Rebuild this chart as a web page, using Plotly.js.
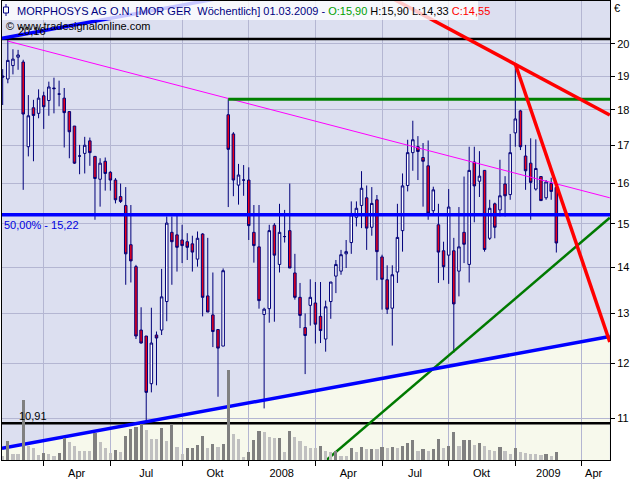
<!DOCTYPE html>
<html><head><meta charset="utf-8">
<script src="https://cdn.plot.ly/plotly-3.0.1.min.js"></script>
<style>html,body{margin:0;padding:0;background:#fff}#chart{width:640px;height:480px}</style>
</head><body><div id="chart"></div>
<script>
// ---- weekly candles (first week Monday 2007-01-29) ----
const firstWeek = '2007-01-29';
const openP = [
19.00,18.91,19.32,19.58,19.43,16.97,18.06,17.90,18.41,18.27,
18.64,18.46,18.34,17.95,17.54,16.72,16.79,17.13,16.71,16.11,
16.58,16.29,16.09,15.67,15.45,14.51,14.01,12.66,12.54,11.62,
12.56,12.66,13.25,14.80,14.74,14.62,14.58,14.53,14.18,14.76,
13.37,12.97,12.67,12.34,17.86,17.32,15.96,16.09,16.09,14.80,
14.46,12.98,13.10,14.97,14.06,14.70,14.84,13.87,13.34,12.71,
13.17,13.22,12.94,12.48,13.25,13.80,13.91,14.30,14.56,15.16,
15.45,15.64,14.92,15.59,14.23,13.72,13.11,13.89,14.84,15.95,
16.81,16.97,16.68,16.46,15.32,14.98,14.37,14.27,14.37,13.91,
14.80,14.06,16.56,16.06,16.34,14.66,15.49,15.34,15.99,15.72,
17.35,17.97,16.72,16.53,15.86,16.18,15.64,16.00,15.90];
const highP = [
19.21,20.16,19.83,19.81,19.50,18.43,18.29,18.60,18.53,18.83,
18.95,18.86,18.64,17.95,17.54,17.02,17.24,17.22,16.72,16.66,
16.68,16.32,16.14,16.00,15.91,15.46,14.05,13.13,12.54,13.12,
12.63,13.96,15.18,15.18,15.22,14.98,14.78,14.72,14.82,14.78,
14.67,13.88,12.68,13.97,18.31,17.37,16.51,16.48,16.42,15.46,
15.46,13.12,14.98,15.02,15.49,15.34,16.00,14.30,13.65,13.00,
13.73,13.67,13.67,13.27,13.67,14.16,14.39,14.62,15.55,15.55,
16.32,15.95,15.91,15.71,14.28,14.04,14.04,15.49,16.26,17.16,
17.69,17.26,17.07,17.14,15.92,15.49,14.58,15.86,14.67,15.41,
16.18,16.97,16.97,16.85,16.35,15.59,15.52,16.62,16.19,17.32,
19.37,18.00,17.02,17.20,17.17,16.19,16.09,16.15,15.90];
const lowP = [
18.14,18.78,19.05,19.19,15.84,16.71,16.58,17.76,17.46,17.83,
17.90,18.10,16.95,16.66,16.51,16.24,16.26,16.46,15.10,15.42,
15.82,15.82,15.50,15.51,13.61,13.66,12.48,12.39,10.91,11.46,
11.59,12.56,12.84,13.61,13.90,14.09,14.16,13.90,14.01,12.94,
13.03,12.32,11.38,12.34,15.41,15.68,15.47,15.69,14.62,14.10,
13.10,11.17,12.81,12.83,13.88,14.56,13.98,13.29,12.70,11.80,
12.75,12.39,12.40,12.23,12.89,13.43,13.83,13.98,14.30,14.94,
14.90,14.39,14.72,13.71,13.08,12.99,12.35,13.65,14.35,15.80,
16.33,16.09,15.42,15.10,15.22,13.65,13.71,13.63,12.21,13.36,
14.09,13.66,15.04,15.66,14.35,14.62,14.66,15.18,15.18,15.59,
16.97,16.88,15.84,15.10,15.82,15.57,15.59,15.59,14.33];
const closeP = [
18.97,19.48,19.52,19.65,17.88,17.83,17.84,18.34,18.09,18.67,
18.62,18.46,17.92,17.38,16.53,16.72,17.01,16.81,16.13,16.53,
16.26,16.09,15.59,15.55,14.30,14.14,12.54,12.40,11.46,12.40,
12.50,13.35,15.02,14.58,14.45,14.49,14.45,14.34,14.66,13.34,
13.03,12.63,12.30,13.92,16.90,16.09,16.22,16.09,14.96,14.49,
13.27,13.09,14.84,14.27,14.80,14.70,13.98,13.34,12.96,12.55,
13.34,12.78,12.65,13.14,13.67,14.06,14.28,14.35,15.22,15.38,
15.88,14.90,15.50,14.35,13.73,13.09,13.83,14.68,15.94,16.81,
17.16,16.84,16.58,15.26,15.84,14.34,14.01,15.41,13.20,14.46,
14.52,16.34,15.94,16.19,14.40,15.38,14.92,15.69,15.69,16.81,
17.74,16.97,16.33,16.03,16.39,15.57,16.04,15.80,14.55];
const volume = [
4,19.3,6,6,60,14,11.7,5,6.7,5.7,
4.3,6.7,21.7,18.3,14.3,9,9,9,26.7,18.3,
11.7,6.7,10,8.3,24.3,31,33.3,35.7,29.7,21,
21,32.3,19,35.7,13.3,5.7,11.7,12,15,23.7,
11.7,15.7,12.7,16,90,26,21,3.3,7.7,20,
29,27.7,22.7,21.7,22,8.3,29,22.7,19.3,14,
11.7,11.7,14,9,7.7,9,4,4,12.3,8.3,
13,10.7,11,10.7,13,11.7,13,11.7,14,16.7,
19.7,9,10.7,9.3,10.7,21,12.3,14.3,28.3,14.3,
20,20.3,15,16.7,14.3,10,9,13,9,6,
11.7,7.7,6.7,6,6,4.7,6,4,8];

// ---- axis ticks ----
const gridDates = ['2007-03-26','2007-06-25','2007-10-01','2007-12-31','2008-03-31','2008-06-30','2008-09-29','2008-12-29','2009-03-30'];
const gridLabels = ['Apr','Jul','Okt','2008','Apr','Jul','Okt','2009','Apr'];
const priceTicks = [11,12,13,14,15,16,17,18,19,20];
const xRange = ['2007-01-28 01:00','2009-05-07 07:00'];
const yRange = [10.286, 21.42];

// ---- levels and trendlines ----
const highLevel = 20.16, lowLevel = 10.91, fibLevel = 15.22;
const resistStart = '2007-12-03', resistLevel = 18.31;
const magentaX = ['2007-02-05','2009-05-07'], magentaY = [20.09, 15.64];
const redUpperX = ['2008-06-27','2009-05-07'], redUpperY = [21.74, 17.85];
const redSteepX = ['2008-12-29','2009-05-07'], redSteepY = [19.37, 12.42];
const greenDiagX = ['2008-03-10','2009-05-07'], greenDiagY = [9.92, 15.15];
const blueLowX = ['2007-01-28','2009-05-07'], blueLowY = [10.48, 12.53];
const blueHighX = ['2007-01-28','2007-12-05'], blueHighY = [20.18, 21.58];

function addDays(s, n){ const d = new Date(s+'T00:00:00Z'); d.setUTCDate(d.getUTCDate()+n); return d.toISOString().slice(0,10); }
const dates = openP.map((_, i) => addDays(firstWeek, 7*i));
const volColors = volume.map((v, i) => (i > 0 && v > volume[i-1]) ? '#808080' : '#C0C0C0');
const labelDates = gridDates.map((d, i) => {
  if (i < gridDates.length - 1) {
    const a = Date.parse(d), b = Date.parse(gridDates[i+1]);
    return new Date((a+b)/2).toISOString().slice(0,10);
  }
  return addDays(d, 16);
});

const hline = (y, color, w, x0) => ({type:'scatter', mode:'lines', x:[x0 || xRange[0], xRange[1]], y:[y, y], line:{color:color, width:w}, hoverinfo:'skip', showlegend:false});
const seg = (xs, ys, color, w) => ({type:'scatter', mode:'lines', x:xs, y:ys, line:{color:color, width:w}, hoverinfo:'skip', showlegend:false});

const traces = [
  {type:'bar', x:dates, y:volume, yaxis:'y2', marker:{color:volColors, line:{width:0}}, width:7*0.62*86400000, hoverinfo:'skip', showlegend:false},
  {type:'candlestick', x:dates, open:openP, high:highP, low:lowP, close:closeP,
   increasing:{line:{color:'#00007A', width:1}, fillcolor:'#FFFFFF'},
   decreasing:{line:{color:'#00007A', width:1}, fillcolor:'#E8001A'},
   whiskerwidth:0, hoverinfo:'skip', showlegend:false},
  seg(magentaX, magentaY, '#FF00FF', 1),
  hline(highLevel, '#000000', 2.5),
  hline(lowLevel, '#000000', 2.5),
  hline(fibLevel, '#0000FF', 3.5),
  hline(resistLevel, '#008000', 3, resistStart),
  seg(greenDiagX, greenDiagY, '#007A00', 2.5),
  seg(blueLowX, blueLowY, '#0000FF', 3.5),
  seg(blueHighX, blueHighY, '#0000FF', 3.5),
  seg(redUpperX, redUpperY, '#FF0000', 3.5),
  seg(redSteepX, redSteepY, '#FF0000', 3.5),
  {type:'scatter', mode:'markers', x:labelDates, y:labelDates.map(()=>15), xaxis:'x2', marker:{opacity:0}, hoverinfo:'skip', showlegend:false}
];

const fillPath = 'M' + blueLowX[0] + ',' + blueLowY[0] + ' L' + blueLowX[1] + ',' + blueLowY[1] + ' L' + blueLowX[1] + ',9 L' + blueLowX[0] + ',9 Z';
const px = v => (v - 2) / 608, py = v => (460 - v) / 459;

const font = 'Liberation Sans, Arial, sans-serif';
const layout = {
  width:640, height:480,
  margin:{l:2, r:30, t:1, b:20, pad:0},
  paper_bgcolor:'#FFFFFF', plot_bgcolor:'#DCDFF0',
  font:{family:font, size:11, color:'#000000'},
  showlegend:false,
  xaxis:{type:'date', range:xRange, tickmode:'array', tickvals:gridDates, showticklabels:false,
         ticks:'outside', ticklen:5, tickcolor:'#000000', showgrid:true, gridcolor:'#B4B6D2', gridwidth:1,
         showline:true, mirror:true, linecolor:'#000000', linewidth:1, zeroline:false,
         rangeslider:{visible:false}, fixedrange:true},
  xaxis2:{type:'date', overlaying:'x', side:'bottom', range:xRange, tickmode:'array', tickvals:labelDates, ticktext:gridLabels,
          ticks:'outside', ticklen:3, tickcolor:'rgba(0,0,0,0)', showgrid:false, showline:false, zeroline:false,
          tickfont:{family:font, size:11, color:'#000000'}},
  yaxis:{type:'log', range:[Math.log10(yRange[0]), Math.log10(yRange[1])], side:'right', tickmode:'array', tickvals:priceTicks,
         ticktext:priceTicks.map(String), ticks:'outside', ticklen:4, tickcolor:'#000000',
         showgrid:true, gridcolor:'#B4B6D2', gridwidth:1, showline:true, mirror:true, linecolor:'#000000', linewidth:1,
         zeroline:false, tickfont:{family:font, size:11, color:'#000000'}, fixedrange:true},
  yaxis2:{overlaying:'y', range:[0, 459], visible:false, fixedrange:true},
  bargap:0,
  shapes:[
    {type:'path', xref:'x', yref:'y', path:fillPath, fillcolor:'#F7F9EC', line:{width:0}, layer:'below'},
    {type:'rect', xref:'paper', yref:'paper', x0:0, x1:px(478), y0:py(20), y1:1, fillcolor:'rgba(255,255,255,0.78)', line:{width:0}, layer:'above'},
    {type:'line', xref:'paper', yref:'paper', x0:px(6), x1:px(6), y0:py(16), y1:py(4), line:{color:'#000080', width:1}, layer:'above'},
    {type:'rect', xref:'paper', yref:'paper', x0:px(3.5), x1:px(8.5), y0:py(13), y1:py(7), fillcolor:'#FFFFFF', line:{color:'#000080', width:1}, layer:'above'}
  ],
  annotations:[
    {xref:'paper', yref:'paper', x:px(15), y:py(10.5), xanchor:'left', yanchor:'middle', showarrow:false,
     text:'<span style="color:#000080">MORPHOSYS AG O.N. [MOR GER&nbsp; Wöchentlich] 01.03.2009 - </span><span style="color:#00A000">O:15,90</span> H:15,90 L:14,33 <span style="color:#FF0000">C:14,55</span>',
     font:{family:font, size:11, color:'#000000'}},
    {xref:'paper', yref:'y', x:px(16), y:Math.log10(highLevel), yshift:8, xanchor:'left', yanchor:'middle', showarrow:false,
     text:'20,16', font:{family:font, size:11, color:'#000000'}},
    {xref:'paper', yref:'paper', x:px(4), y:py(26), xanchor:'left', yanchor:'middle', showarrow:false,
     text:'© www.tradesignalonline.com', font:{family:font, size:11, color:'#000000'}},
    {xref:'paper', yref:'y', x:px(2), y:Math.log10(fibLevel), yshift:-10, xanchor:'left', yanchor:'middle', showarrow:false,
     text:'50,00% - 15,22', font:{family:font, size:11, color:'#0000E0'}},
    {xref:'paper', yref:'y', x:px(17), y:Math.log10(lowLevel), yshift:7, xanchor:'left', yanchor:'middle', showarrow:false,
     text:'10,91', font:{family:font, size:11, color:'#000000'}},
    {xref:'paper', yref:'paper', x:px(617), y:py(8), xanchor:'center', yanchor:'middle', showarrow:false,
     text:'€', font:{family:font, size:11, color:'#000000'}}
  ]
};
Plotly.newPlot('chart', traces, layout, {staticPlot:true, displayModeBar:false});
</script></body></html>
